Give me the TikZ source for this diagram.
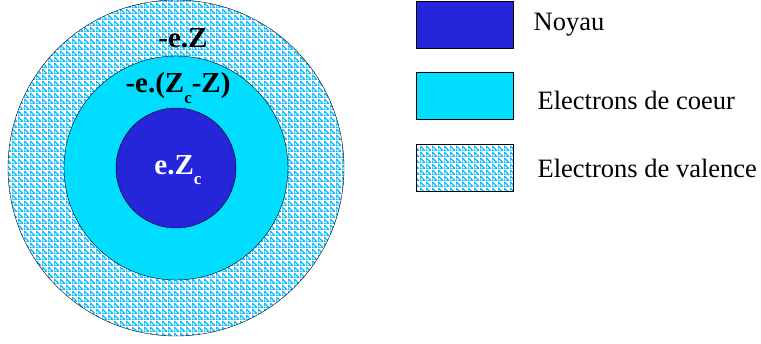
\documentclass[tikz,border=0pt]{standalone}
\usepackage{fontspec}
\setmainfont{Liberation Serif}
\usetikzlibrary{positioning,patterns}

\definecolor{noyau}{RGB}{37,37,217}
\definecolor{coeur}{RGB}{0,221,255}
\definecolor{valence}{RGB}{0,185,255}

% motif des electrons de valence
\pgfdeclarepatternformonly{valgrid}{\pgfpointorigin}{\pgfqpoint{6pt}{6pt}}{\pgfqpoint{6pt}{6pt}}{%
  \pgfsetlinewidth{1.4pt}
  \pgfpathmoveto{\pgfqpoint{0pt}{0pt}}\pgfpathlineto{\pgfqpoint{6pt}{0pt}}
  \pgfpathmoveto{\pgfqpoint{0pt}{0pt}}\pgfpathlineto{\pgfqpoint{0pt}{6pt}}
  \pgfpathmoveto{\pgfqpoint{0.5pt}{5.5pt}}\pgfpathlineto{\pgfqpoint{5.5pt}{0.5pt}}
  \pgfusepath{stroke}}

\newcommand{\subc}{\raisebox{-0.35em}{\fontsize{17}{17}\selectfont c}}

\tikzset{
  legbox/.style={draw, line width=0.9pt, minimum width=97pt, minimum height=47pt, inner sep=0pt},
  legtext/.style={font=\fontsize{26.5}{30}\selectfont, anchor=west, inner sep=0pt},
  charge/.style={font=\fontsize{29}{30}\selectfont\bfseries, inner sep=0pt}
}

\begin{document}
\begin{tikzpicture}[x=1pt,y=-1pt]
    \useasboundingbox (0,0) rectangle (761,343);

    % Atome
    \begin{scope}[shift={(176,168)}]
        \fill[white] (0,0) circle (168);
        \fill[pattern=valgrid, pattern color=valence] (0,0) circle (168);
        \draw[thin] (0,0) circle (168);
        \filldraw[fill=coeur, thin] (0,0) circle (112);
        \filldraw[fill=noyau, thin] (0,0) circle (60);
        \node[charge] (zval) at (7,-130) {-e.Z};
        \node[charge] (zcoeur) at (2,-80) {-e.(Z\subc-Z)};
        \node[charge, text=white] (znoyau) at (2,2) {e.Z\subc};
    \end{scope}

    % Legende
    \node[legbox, fill=noyau] (bnoyau) at (464.5,24.5) {};
    \node[legbox, fill=coeur] (bcoeur) at (464.5,96) {};
    \node[legbox, pattern=valgrid, pattern color=valence] (bval) at (464.5,168) {};
    \node[legtext, right=20pt of bnoyau] (tnoyau) {Noyau};
    \node[legtext, right=24pt of bcoeur, yshift=-4pt] (tcoeur) {Electrons de coeur};
    \node[legtext, right=24pt of bval] (tval) {Electrons de valence};
\end{tikzpicture}
\end{document}
